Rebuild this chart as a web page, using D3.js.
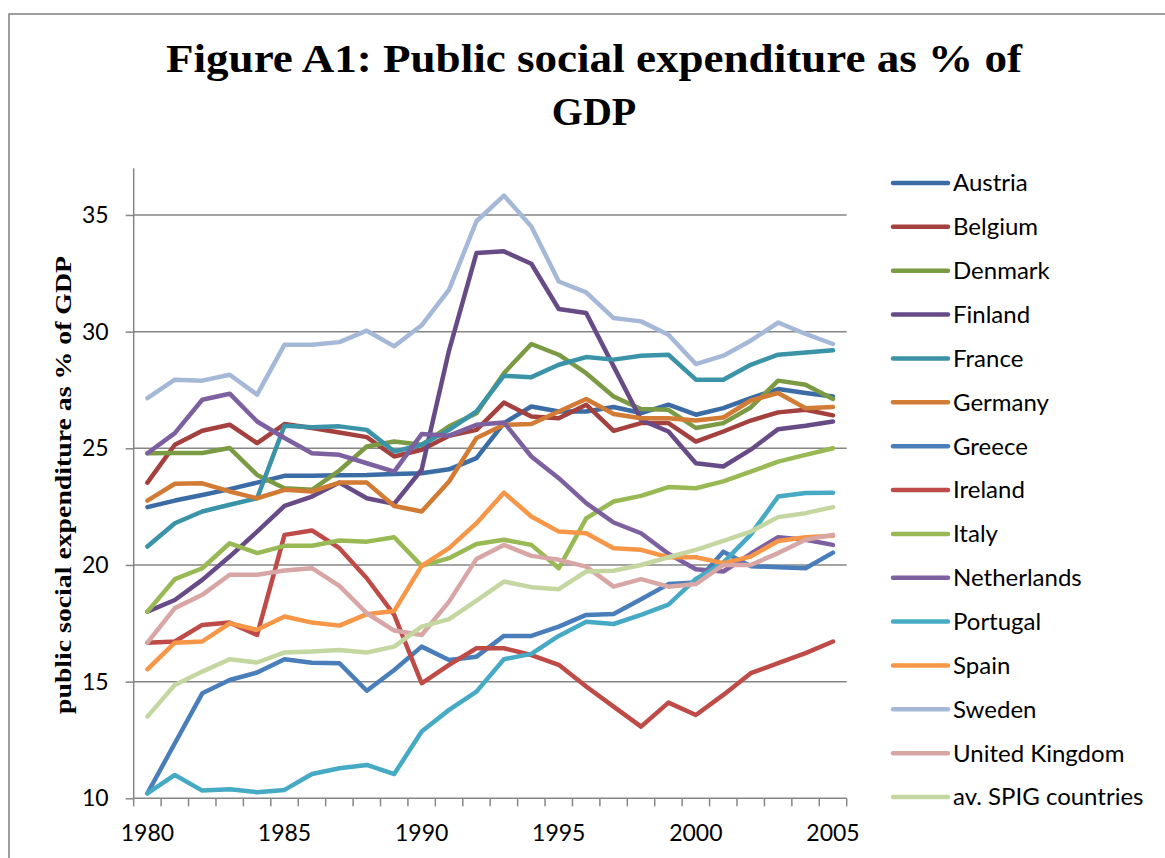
<!DOCTYPE html>
<html>
<head>
<meta charset="utf-8">
<script src="https://cdn.jsdelivr.net/npm/d3@7"></script>
<style>
  html, body { margin: 0; padding: 0; background: #fff; }
  svg { display: block; }
</style>
</head>
<body>
<svg id="chart" width="1165" height="858"></svg>
<script>
// Public social expenditure as % of GDP, 1980-2005
const years = d3.range(1980, 2006);
const yTicks = [10, 15, 20, 25, 30, 35];
const xTickLabels = [1980, 1985, 1990, 1995, 2000, 2005];

const countries = ["Austria", "Belgium", "Denmark", "Finland", "France", "Germany", "Greece",
  "Ireland", "Italy", "Netherlands", "Portugal", "Spain", "Sweden", "United Kingdom", "av. SPIG countries"];

const colors = ["#3b6ca5", "#a4403d", "#7b9a44", "#664b86", "#3a93a7", "#d17b35", "#4a7ebb",
  "#be4b48", "#98b954", "#7d60a0", "#46aac5", "#f79646", "#a5b8d7", "#d7a6a5", "#c4d7a0"];

const austria = [22.48, 22.76, 23.0, 23.25, 23.53, 23.82, 23.82, 23.85, 23.86, 23.9, 23.93, 24.1, 24.58, 26.08, 26.79, 26.58, 26.58, 26.77, 26.51, 26.87, 26.44, 26.72, 27.15, 27.54, 27.37, 27.22];
const belgium = [23.53, 25.15, 25.75, 26.01, 25.22, 26.04, 25.87, 25.68, 25.48, 24.65, 24.94, 25.54, 25.79, 26.96, 26.36, 26.29, 26.87, 25.75, 26.08, 26.08, 25.29, 25.72, 26.19, 26.54, 26.65, 26.41];
const denmark = [24.79, 24.8, 24.8, 25.01, 23.86, 23.29, 23.22, 24.05, 25.08, 25.29, 25.15, 25.94, 26.5, 28.22, 29.47, 29.01, 28.22, 27.22, 26.68, 26.65, 25.87, 26.08, 26.75, 27.9, 27.72, 27.11];
const finland = [18.0, 18.5, 19.36, 20.36, 21.43, 22.53, 22.93, 23.53, 22.86, 22.62, 24.08, 29.2, 33.37, 33.44, 32.91, 30.97, 30.8, 28.51, 26.22, 25.72, 24.36, 24.22, 24.94, 25.82, 25.97, 26.15];
const france = [20.79, 21.79, 22.29, 22.58, 22.86, 25.97, 25.9, 25.94, 25.79, 24.86, 25.15, 25.79, 26.58, 28.11, 28.05, 28.58, 28.91, 28.8, 28.97, 29.01, 27.94, 27.94, 28.58, 29.01, 29.11, 29.2];
const germany = [22.76, 23.48, 23.5, 23.15, 22.86, 23.22, 23.15, 23.53, 23.53, 22.53, 22.29, 23.58, 25.44, 26.01, 26.04, 26.58, 27.11, 26.47, 26.29, 26.29, 26.19, 26.32, 27.05, 27.37, 26.72, 26.77];
const greece = [10.21, 12.36, 14.5, 15.07, 15.39, 15.96, 15.81, 15.79, 14.61, 15.5, 16.5, 15.93, 16.07, 16.96, 16.96, 17.36, 17.86, 17.9, 18.53, 19.18, 19.25, 20.57, 19.95, 19.9, 19.86, 20.53];
const ireland = [16.67, 16.72, 17.43, 17.53, 17.0, 21.29, 21.48, 20.72, 19.43, 17.86, 14.93, 15.72, 16.43, 16.43, 16.14, 15.72, 14.79, 13.93, 13.07, 14.1, 13.57, 14.43, 15.36, 15.79, 16.22, 16.72];
const italy = [18.0, 19.39, 19.86, 20.93, 20.51, 20.82, 20.82, 21.05, 21.0, 21.19, 19.96, 20.29, 20.9, 21.08, 20.86, 19.86, 22.0, 22.72, 22.96, 23.34, 23.29, 23.58, 24.0, 24.43, 24.72, 25.0];
const netherlands = [24.79, 25.65, 27.08, 27.34, 26.15, 25.44, 24.79, 24.72, 24.36, 24.0, 25.61, 25.54, 26.01, 26.11, 24.65, 23.72, 22.65, 21.82, 21.36, 20.48, 19.82, 19.72, 20.48, 21.19, 21.08, 20.86];
const portugal = [10.21, 11.0, 10.33, 10.39, 10.26, 10.36, 11.04, 11.29, 11.43, 11.04, 12.86, 13.79, 14.57, 15.96, 16.19, 16.96, 17.57, 17.47, 17.86, 18.3, 19.4, 20.1, 21.3, 22.93, 23.08, 23.1];
const spain = [15.53, 16.67, 16.72, 17.5, 17.22, 17.79, 17.53, 17.4, 17.89, 18.03, 19.96, 20.72, 21.79, 23.1, 22.08, 21.43, 21.36, 20.72, 20.65, 20.33, 20.33, 20.08, 20.36, 21.03, 21.19, 21.25];
const sweden = [27.15, 27.94, 27.9, 28.15, 27.3, 29.44, 29.44, 29.55, 30.04, 29.37, 30.27, 31.8, 34.73, 35.83, 34.51, 32.15, 31.68, 30.58, 30.44, 29.87, 28.61, 28.97, 29.61, 30.39, 29.9, 29.47];
const unitedKingdom = [16.67, 18.15, 18.72, 19.58, 19.58, 19.76, 19.86, 19.1, 17.93, 17.19, 17.0, 18.43, 20.26, 20.86, 20.39, 20.22, 19.93, 19.07, 19.39, 19.07, 19.18, 20.0, 20.0, 20.51, 21.08, 21.29];
const spigAverage = [13.5, 14.86, 15.43, 15.96, 15.82, 16.25, 16.29, 16.36, 16.25, 16.5, 17.36, 17.68, 18.47, 19.29, 19.05, 18.96, 19.72, 19.75, 20.0, 20.33, 20.65, 21.03, 21.43, 22.05, 22.22, 22.48];

const seriesValues = [austria, belgium, denmark, finland, france, germany, greece, ireland,
  italy, netherlands, portugal, spain, sweden, unitedKingdom, spigAverage];

const series = countries.map((name, i) => ({
  name, color: colors[i],
  values: years.map((yr, j) => ({ year: yr, value: seriesValues[i][j] }))
}));

const svg = d3.select("#chart");
const plot = { left: 133.7, right: 846.7, top: 168.3, bottom: 798.3 };

const x = d3.scaleBand().domain(years).range([plot.left, plot.right]).paddingInner(0).paddingOuter(0);
const xc = yr => x(yr) + x.bandwidth() / 2;
const y = d3.scaleLinear().domain([10, 37]).range([plot.bottom, plot.top]);

const sansFont = "Lato, 'Open Sans', sans-serif";
const serifFont = "'Liberation Serif', 'DejaVu Serif', serif";
const axisGrey = "#868686";

svg.append("rect").attr("width", 1165).attr("height", 858).attr("fill", "#fff");

// Chart-area frame
svg.append("rect")
  .attr("x", 9).attr("y", 14).attr("width", 1200).attr("height", 900)
  .attr("fill", "none").attr("stroke", axisGrey).attr("stroke-width", 1.6);

// Title
const title = svg.append("text")
  .attr("x", 594).attr("text-anchor", "middle")
  .attr("font-family", serifFont).attr("font-weight", "bold")
  .attr("font-size", 40).attr("fill", "#000");
title.append("tspan").attr("x", 594).attr("y", 72)
  .attr("textLength", 856).attr("lengthAdjust", "spacingAndGlyphs")
  .text("Figure A1: Public social expenditure as % of");
title.append("tspan").attr("x", 594).attr("y", 125).text("GDP");

// Horizontal gridlines
svg.append("g")
  .selectAll("line").data(yTicks.filter(t => t > 10)).join("line")
  .attr("x1", plot.left).attr("x2", plot.right)
  .attr("y1", d => y(d)).attr("y2", d => y(d))
  .attr("stroke", axisGrey).attr("stroke-width", 1.5);

// Y axis
const yAxis = svg.append("g")
  .attr("transform", `translate(${plot.left},0)`)
  .call(d3.axisLeft(y).tickValues(yTicks).tickSize(8).tickPadding(17).tickSizeOuter(0));
yAxis.select(".domain").attr("stroke", axisGrey).attr("stroke-width", 1.5)
  .attr("d", `M0,${plot.top}V${plot.bottom}`);
yAxis.selectAll(".tick line").attr("stroke", axisGrey).attr("stroke-width", 1.5);
yAxis.selectAll(".tick text").attr("font-family", sansFont).attr("font-size", 23).attr("fill", "#000");

// X axis: ticks at category boundaries, labels every fifth year
const xAxisG = svg.append("g").attr("transform", `translate(0,${plot.bottom})`);
xAxisG.append("line").attr("x1", plot.left).attr("x2", plot.right)
  .attr("stroke", axisGrey).attr("stroke-width", 1.5);
const boundaries = years.map(yr => x(yr)).concat([x(years[years.length - 1]) + x.bandwidth()]);
xAxisG.selectAll("line.tick").data(boundaries).join("line").attr("class", "tick")
  .attr("x1", d => d).attr("x2", d => d).attr("y1", 0).attr("y2", 8)
  .attr("stroke", axisGrey).attr("stroke-width", 1.5);
xAxisG.selectAll("text").data(xTickLabels).join("text")
  .attr("x", d => xc(d)).attr("y", 43).attr("text-anchor", "middle")
  .attr("font-family", sansFont).attr("font-size", 23).attr("fill", "#000")
  .text(d => d);

// Y axis title
svg.append("text")
  .attr("transform", `translate(71,485) rotate(-90)`)
  .attr("text-anchor", "middle")
  .attr("font-family", serifFont).attr("font-weight", "bold")
  .attr("font-size", 23).attr("fill", "#000")
  .attr("textLength", 458).attr("lengthAdjust", "spacingAndGlyphs")
  .text("public social expenditure as % of GDP");

// Series lines
const line = d3.line().x(d => xc(d.year)).y(d => y(d.value));
svg.append("g").selectAll("path").data(series).join("path")
  .attr("d", d => line(d.values))
  .attr("fill", "none").attr("stroke", d => d.color)
  .attr("stroke-width", 4.5).attr("stroke-linejoin", "round").attr("stroke-linecap", "round");

// Legend
const legend = svg.append("g");
const rows = legend.selectAll("g").data(series).join("g")
  .attr("transform", (d, i) => `translate(0,${183 + i * 43.86})`);
rows.append("line").attr("x1", 893).attr("x2", 948)
  .attr("stroke", d => d.color).attr("stroke-width", 4.5).attr("stroke-linecap", "round");
rows.append("text").attr("x", 953).attr("y", 0).attr("dy", "0.35em")
  .attr("font-family", sansFont).attr("font-size", 24).attr("fill", "#000")
  .text(d => d.name);
</script>
</body>
</html>
